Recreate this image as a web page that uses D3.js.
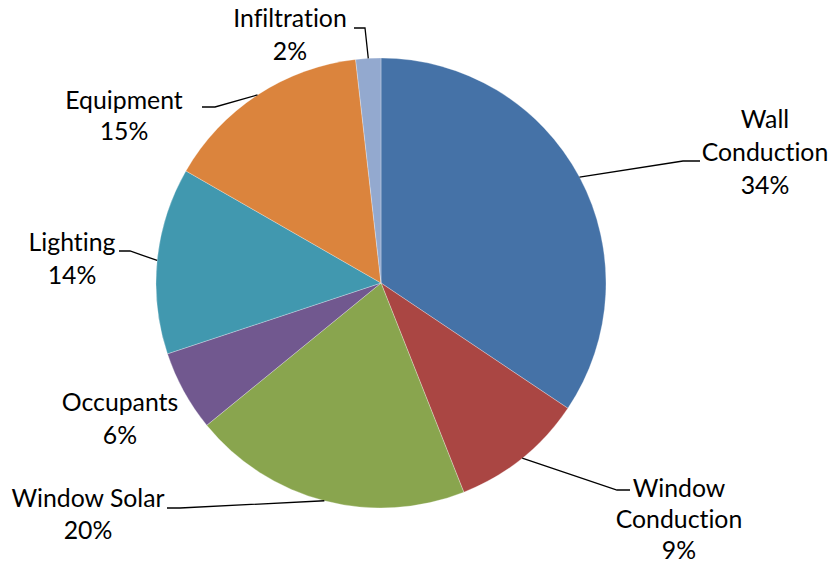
<!DOCTYPE html>
<html>
<head>
<meta charset="utf-8">
<script src="https://cdn.jsdelivr.net/npm/d3@7"></script>
<style>
  html, body { margin: 0; padding: 0; background: #fff; }
  svg text { font-family: "Lato", "Open Sans", sans-serif; fill: #000; font-variant-ligatures: none; font-feature-settings: "liga" 0, "clig" 0; }
</style>
</head>
<body>
<svg id="chart" width="830" height="563"></svg>
<script>
// ---- data ----
const categories = ["Wall Conduction", "Window Conduction", "Window Solar", "Occupants", "Lighting", "Equipment", "Infiltration"];
const values = [34.4, 9.6, 20.1, 5.8, 13.4, 14.9, 1.8];
const percentLabels = ["34%", "9%", "20%", "6%", "14%", "15%", "2%"];
const colors = ["#4572A7", "#AA4643", "#89A54E", "#71588F", "#4198AF", "#DB843D", "#93A9CF"];

// ---- layout (label placement, Excel best-fit style) ----
const labelLayout = [
  { lines: ["Wall", "Conduction"], cx: 765, y0: 120, lh: 33, elbow: [683, 161], end: [700, 161] },
  { lines: ["Window", "Conduction"], cx: 679, y0: 489, lh: 31, elbow: [617, 490], end: [630, 490] },
  { lines: ["Window Solar"], cx: 88, y0: 499, lh: 32, elbow: [180, 508], end: [167, 508] },
  { lines: ["Occupants"], cx: 120, y0: 403, lh: 33, elbow: null, end: null },
  { lines: ["Lighting"], cx: 72, y0: 243, lh: 33, elbow: [130, 251], end: [119, 251] },
  { lines: ["Equipment"], cx: 124, y0: 101, lh: 31, elbow: [215, 107], end: [202, 107] },
  { lines: ["Infiltration"], cx: 290, y0: 19, lh: 33, elbow: [365, 28], end: [354, 28] }
];

const cx = 381, cy = 283, R = 225;
const svg = d3.select("#chart");

const pie = d3.pie().sort(null).value(d => d.value).startAngle(0).endAngle(2 * Math.PI);
const data = categories.map((c, i) => ({ name: c, value: values[i], color: colors[i], pct: percentLabels[i], layout: labelLayout[i] }));
const arcs = pie(data);
const arc = d3.arc().innerRadius(0).outerRadius(R);

const g = svg.append("g").attr("transform", `translate(${cx},${cy})`);
g.selectAll("path.slice").data(arcs).join("path")
  .attr("class", "slice")
  .attr("d", arc)
  .attr("fill", d => d.data.color)
  .attr("stroke", "rgba(255,255,255,0.35)")
  .attr("stroke-width", 0.8);

// leader lines
arcs.forEach(a => {
  const L = a.data.layout;
  if (!L.elbow) return;
  const mid = (a.startAngle + a.endAngle) / 2;
  const p0 = [cx + R * Math.sin(mid), cy - R * Math.cos(mid)];
  svg.append("polyline")
    .attr("points", [p0, L.elbow, L.end].map(p => p.join(",")).join(" "))
    .attr("fill", "none")
    .attr("stroke", "#000")
    .attr("stroke-width", 1.3);
});

// labels
arcs.forEach(a => {
  const L = a.data.layout;
  const lines = L.lines.concat([a.data.pct]);
  const t = svg.append("text")
    .attr("text-anchor", "middle")
    .attr("font-size", 24.8);
  lines.forEach((ln, i) => {
    t.append("tspan")
      .attr("x", L.cx)
      .attr("y", L.y0 + i * L.lh)
      .attr("dy", "0.34em")
      .text(ln);
  });
});
</script>
</body>
</html>
